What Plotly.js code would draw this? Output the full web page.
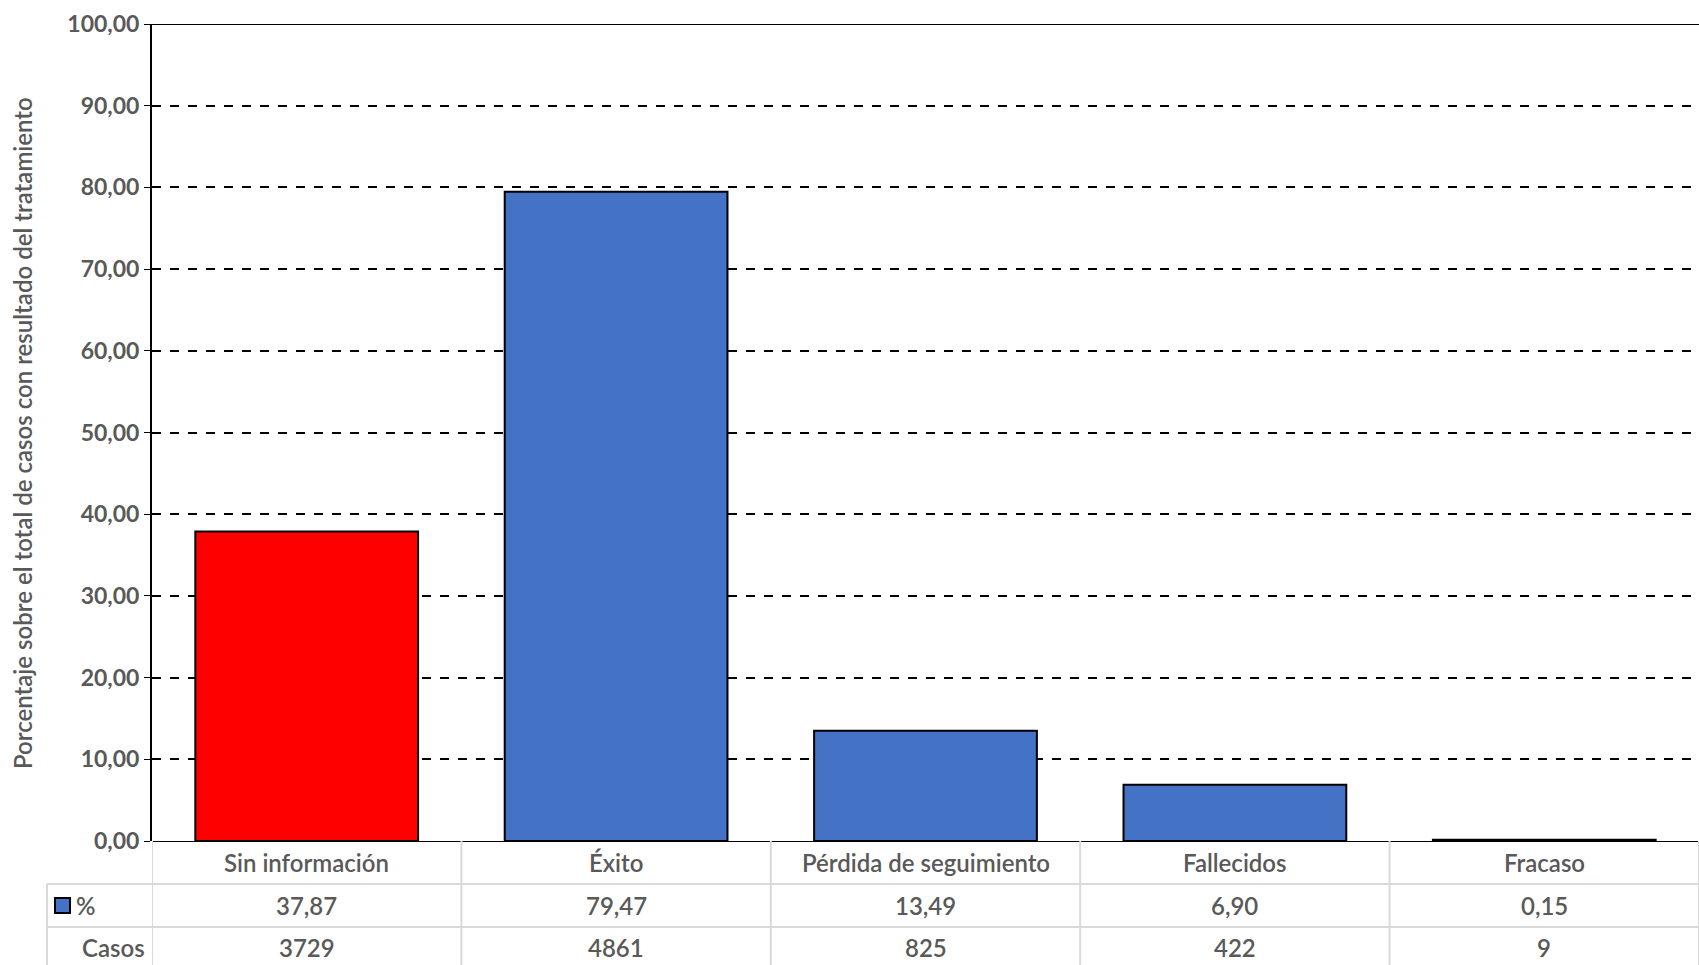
<!DOCTYPE html>
<html><head><meta charset="utf-8">
<script src="https://cdn.plot.ly/plotly-3.0.1.min.js"></script>
<style>body{margin:0}</style></head><body>
<div id="c" style="width:1699px;height:965px"></div>
<script>
const categories = ["Sin información","Éxito","Pérdida de seguimiento","Fallecidos","Fracaso"];
const percent = [37.87,79.47,13.49,6.90,0.15];
const casos = [3729,4861,825,422,9];
const percentLabels = ["37,87","79,47","13,49","6,90","0,15"];
const barColors = ["#ff0000","#4472c4","#4472c4","#4472c4","#4472c4"];

const W=1699,H=965,L=152;
const py = p => (H-p)/H;
const px = p => (p-L)/(W-L);
const F = "Lato, 'Open Sans', sans-serif";
const txt = "#595959";
const grid = "#d9d9d9";

const shapes = [];
const ann = [];
shapes.push({type:'line',xref:'paper',yref:'y',x0:0,x1:1,y0:100,y1:100,line:{color:'black',width:2}});
[884,927].forEach(y=>shapes.push({type:'line',xref:'paper',yref:'paper',x0:px(47),x1:1,y0:py(y),y1:py(y),line:{color:grid,width:2}}));
for(let i=0;i<=5;i++){
  shapes.push({type:'line',xref:'x',yref:'paper',x0:i-0.5,x1:i-0.5,y0:py(841),y1:0,line:{color:grid,width:2}});
}
shapes.push({type:'line',xref:'paper',yref:'paper',x0:px(47),x1:px(47),y0:py(884),y1:0,line:{color:grid,width:2}});
shapes.push({type:'rect',xref:'paper',yref:'paper',x0:px(55),x1:px(70),y0:py(913),y1:py(898),fillcolor:'#4472c4',line:{color:'black',width:2}});
const tf = {family:F,size:24,color:txt,weight:600};
categories.forEach((c,i)=>{
  ann.push({x:i,xref:'x',y:py(862),yref:'paper',yanchor:'middle',text:c,showarrow:false,font:tf});
  ann.push({x:i,xref:'x',y:py(905),yref:'paper',yanchor:'middle',text:percentLabels[i],showarrow:false,font:tf});
  ann.push({x:i,xref:'x',y:py(947),yref:'paper',yanchor:'middle',text:String(casos[i]),showarrow:false,font:tf});
});
ann.push({x:px(74),y:py(905),xref:'paper',yref:'paper',xanchor:'left',yanchor:'middle',text:'%',showarrow:false,font:tf});
ann.push({x:px(147),y:py(947),xref:'paper',yref:'paper',xanchor:'right',yanchor:'middle',text:'Casos',showarrow:false,font:tf});
ann.push({x:px(23),y:py(433),xref:'paper',yref:'paper',xanchor:'center',yanchor:'middle',textangle:-90,text:'Porcentaje sobre el total de casos con resultado del tratamiento',showarrow:false,font:{family:F,size:24,color:txt,weight:600}});

Plotly.newPlot('c',[{
  type:'bar',x:[0,1,2,3,4],y:percent,
  marker:{color:barColors,line:{color:'black',width:2}},
  hoverinfo:'skip'
}],{
  width:W,height:H,margin:{l:L,r:0,t:0,b:0},
  paper_bgcolor:'white',plot_bgcolor:'white',
  separators:',.',bargap:0.28,showlegend:false,
  xaxis:{range:[-0.5,4.5],showticklabels:false,showgrid:false,zeroline:false,ticks:'',fixedrange:true},
  yaxis:{domain:[py(841),py(24)],range:[0,100],dtick:10,tickformat:'.2f',
    showgrid:true,gridcolor:'black',griddash:'dash',gridwidth:2,
    showline:true,linecolor:'black',linewidth:2,ticks:'outside',ticklen:6,tickcolor:'black',
    zeroline:true,zerolinecolor:'black',zerolinewidth:1,
    tickfont:{family:F,size:23,color:txt,weight:'bold'}},
  shapes:shapes,annotations:ann
},{displayModeBar:false});
</script></body></html>
